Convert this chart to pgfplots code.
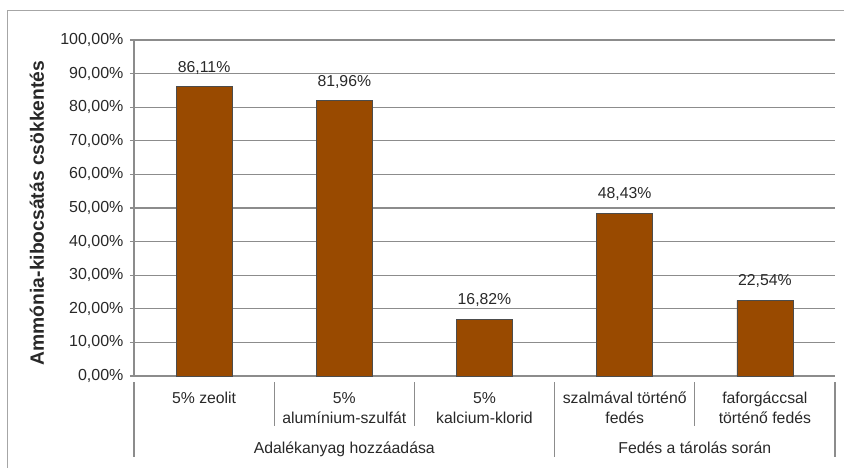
\documentclass[border=0pt]{standalone}
\usepackage{pgfplots}
\pgfplotsset{compat=1.18}
\usepackage{fontspec}
\setmainfont{Liberation Sans}
\definecolor{barbrown}{RGB}{153,74,0}
\definecolor{gridgray}{RGB}{140,140,140}
\definecolor{txt}{RGB}{40,40,40}
\begin{document}
\begin{tikzpicture}[x=1pt,y=1pt]
\useasboundingbox (0,0) rectangle (844,467);
\clip (0,0) rectangle (844,467);
\draw[gray!70, line width=1pt] (7,-5) -- (7,456) -- (850,456);
\begin{axis}[
  at={(134pt,91pt)}, anchor=south west,
  scale only axis, width=701pt, height=336pt,
  xmin=-0.5, xmax=4.5, ymin=0, ymax=100,
  enlargelimits=false, clip=false,
  axis lines=left, axis line style={-, gridgray, line width=1.1pt},
  xtick=\empty,
  ytick={0,10,...,100},
  yticklabels={0{,}00\%,10{,}00\%,20{,}00\%,30{,}00\%,40{,}00\%,50{,}00\%,60{,}00\%,70{,}00\%,80{,}00\%,90{,}00\%,100{,}00\%},
  ymajorgrids, grid style={gridgray, line width=1.1pt},
  tick align=outside, major tick length=4pt,
  ytick style={gridgray, line width=1.1pt},
  yticklabel style={font=\fontsize{16}{18}\selectfont, text=txt, xshift=-3pt},
  /pgf/number format/assume math mode=true,
]
\addplot[ybar, bar width=56pt, fill=barbrown, draw=black!70, line width=0.8pt,
  nodes near coords={\pgfmathprintnumber[fixed,zerofill,precision=2,use comma]{\pgfplotspointmeta}\%},
  nodes near coords style={anchor=base, yshift=14.5pt, font=\fontsize{15.8}{18}\selectfont, text=txt}]
  coordinates {(0,86.11) (1,81.96) (2,16.82) (3,48.43) (4,22.54)};
% separators
\draw[gridgray, line width=1.1pt] ([yshift=-6pt]axis cs:-0.5,0) -- ([yshift=-81pt]axis cs:-0.5,0);
\draw[gridgray, line width=1.1pt] ([yshift=-6pt]axis cs:2.5,0) -- ([yshift=-81pt]axis cs:2.5,0);
\draw[gridgray, line width=1.1pt] ([yshift=-6pt]axis cs:4.5,0) -- ([yshift=-81pt]axis cs:4.5,0);
\draw[gridgray, line width=1.1pt] ([yshift=-6pt]axis cs:0.5,0) -- ([yshift=-50pt]axis cs:0.5,0);
\draw[gridgray, line width=1.1pt] ([yshift=-6pt]axis cs:1.5,0) -- ([yshift=-50pt]axis cs:1.5,0);
\draw[gridgray, line width=1.1pt] ([yshift=-6pt]axis cs:3.5,0) -- ([yshift=-50pt]axis cs:3.5,0);
\tikzset{cl/.style={anchor=base, inner sep=0pt, font=\fontsize{15.8}{18}\selectfont, text=txt}}
\node[cl] at ([yshift=-27.5pt]axis cs:0,0) {5\% zeolit};
\node[cl] at ([yshift=-27.5pt]axis cs:1,0) {5\%};
\node[cl] at ([yshift=-47pt]axis cs:1,0) {alumínium-szulfát};
\node[cl] at ([yshift=-27.5pt]axis cs:2,0) {5\%};
\node[cl] at ([yshift=-47pt]axis cs:2,0) {kalcium-klorid};
\node[cl] at ([yshift=-27.5pt]axis cs:3,0) {szalmával történő};
\node[cl] at ([yshift=-47pt]axis cs:3,0) {fedés};
\node[cl] at ([yshift=-27.5pt]axis cs:4,0) {faforgáccsal};
\node[cl] at ([yshift=-47pt]axis cs:4,0) {történő fedés};
\node[cl] at ([yshift=-77pt]axis cs:1,0) {Adalékanyag hozzáadása};
\node[cl] at ([yshift=-77pt]axis cs:3.5,0) {Fedés a tárolás során};
\end{axis}
\node[rotate=90, inner sep=0pt, text=txt, font=\bfseries\fontsize{19.3}{22}\selectfont] at (37,254) {Ammónia-kibocsátás csökkentés};
\end{tikzpicture}
\end{document}
